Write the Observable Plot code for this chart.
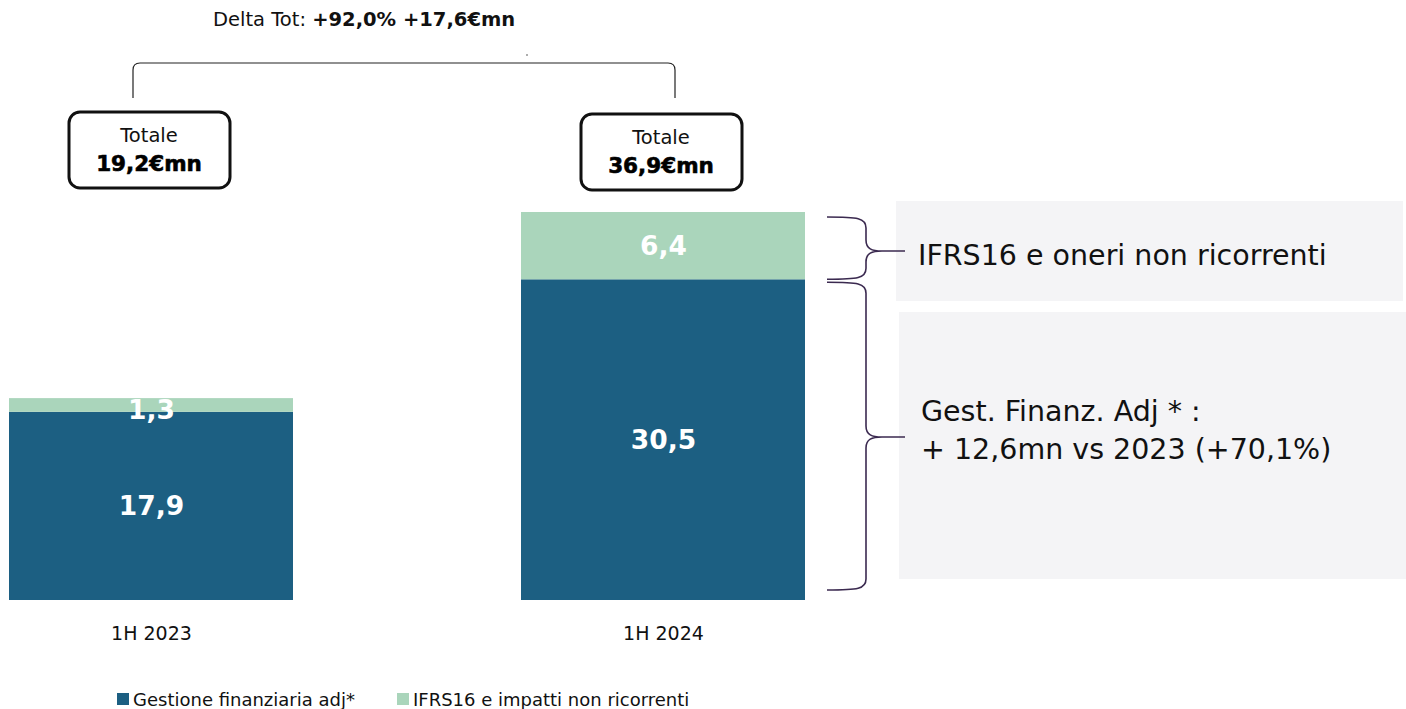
<!DOCTYPE html>
<html>
<head>
<meta charset="utf-8">
<script src="https://cdn.jsdelivr.net/npm/d3@7"></script>
<script src="https://cdn.jsdelivr.net/npm/@observablehq/plot@0.6"></script>
<style>
  html, body { margin: 0; padding: 0; background: #ffffff; }
  #chart { position: relative; width: 1406px; height: 709px; overflow: hidden; }
  svg { font-family: "DejaVu Sans", Verdana, sans-serif; }
</style>
</head>
<body>
<div id="chart"></div>
<script>
// ---- data ----
const periods = ["1H 2023", "1H 2024"];
const seriesNames = ["Gestione finanziaria adj*", "IFRS16 e impatti non ricorrenti"];
const gestione = [17.9, 30.5];
const ifrs = [1.3, 6.4];
const totals = [19.2, 36.9];
const totalLabel = "Totale";
const deltaLabel = "Delta Tot: ";
const deltaPct = "+92,0%";
const deltaAbs = "+17,6€mn";
const noteIfrs = "IFRS16 e oneri non ricorrenti";
const noteGest = ["Gest. Finanz. Adj * :", "+ 12,6mn vs 2023 (+70,1%)"];
const colors = ["#1c5f82", "#aad5bb"];

const fmt = v => v.toFixed(1).replace(".", ",");

const rows = [];
periods.forEach((p, i) => {
  rows.push({period: p, series: seriesNames[0], value: gestione[i]});
  rows.push({period: p, series: seriesNames[1], value: ifrs[i]});
});

const labelOpts = {fill: "white", fontWeight: "bold", fontSize: 26.5};

const chart = Plot.plot({
  width: 1406,
  height: 709,
  margin: 0,
  style: {fontFamily: '"DejaVu Sans", Verdana, sans-serif', background: "white"},
  x: {domain: periods, range: [8, 806], paddingInner: 0.4444, paddingOuter: 0, axis: null},
  y: {domain: [0, 36.9], range: [600, 212], axis: null},
  color: {domain: seriesNames, range: colors},
  marks: [
    Plot.barY(rows, {x: "period", y: "value", fill: "series"}),
    Plot.text(rows, Plot.stackY({
      x: "period", y: "value", z: "series",
      text: d => d.value >= 2 ? fmt(d.value) : "",
      ...labelOpts
    })),
    Plot.text(rows, Plot.stackY({
      x: "period", y: "value", z: "series",
      text: d => d.value < 2 ? fmt(d.value) : "",
      dy: 5,
      ...labelOpts
    })),
    Plot.text(periods, {x: d => d, y: () => 0, text: d => d, dy: 33, fontSize: 19, fill: "#111"})
  ]
});

document.getElementById("chart").appendChild(chart);

const svg = d3.select(chart);
const xs = chart.scale("x");
const centers = periods.map(p => xs.apply(p) + xs.bandwidth / 2);

// Delta title
const title = svg.append("text").attr("x", 213).attr("y", 26).attr("text-anchor", "start")
  .attr("font-size", 19.5).attr("fill", "#111");
title.append("tspan").text(deltaLabel);
title.append("tspan").attr("font-weight", "bold").text(deltaPct + " ");
title.append("tspan").attr("font-weight", "bold").text(deltaAbs);

svg.append("circle").attr("cx", 527).attr("cy", 55).attr("r", 0.8).attr("fill", "#444");

// connector bracket between boxes
svg.append("path")
  .attr("d", "M133,98 L133,70 Q133,63 140,63 L668,63 Q675,63 675,70 L675,98")
  .attr("fill", "none").attr("stroke", "#222").attr("stroke-width", 1.2);

// total boxes
const boxY = [112, 114];
centers.forEach((cx, i) => {
  const g = svg.append("g");
  g.append("rect").attr("x", cx - 82).attr("y", boxY[i]).attr("width", 161).attr("height", 76)
    .attr("rx", 11).attr("fill", "white").attr("stroke", "#111").attr("stroke-width", 3);
  g.append("text").attr("x", cx - 2).attr("y", boxY[i] + 30).attr("text-anchor", "middle")
    .attr("font-size", 19.5).attr("fill", "#111").text(totalLabel);
  g.append("text").attr("x", cx - 2).attr("y", boxY[i] + 59).attr("text-anchor", "middle")
    .attr("font-size", 21.5).attr("font-weight", "bold").attr("fill", "#000")
    .attr("stroke", "#000").attr("stroke-width", 0.6).text(fmt(totals[i]) + "€mn");
});

// grey note boxes
svg.append("rect").attr("x", 896).attr("y", 201).attr("width", 507).attr("height", 100).attr("fill", "#f4f4f6");
svg.append("rect").attr("x", 899).attr("y", 312).attr("width", 507).attr("height", 267).attr("fill", "#f4f4f6");

svg.append("text").attr("x", 918).attr("y", 265).attr("text-anchor", "start")
  .attr("font-size", 28.5).attr("fill", "#111").text(noteIfrs);
noteGest.forEach((t, i) => {
  svg.append("text").attr("x", 921).attr("y", 421 + i * 38).attr("text-anchor", "start")
    .attr("font-size", 28.5).attr("fill", "#111").text(t);
});

// curly braces
function brace(x0, x1, xt, y0, ym, y1) {
  const r = 11;
  return `M${x0},${y0} C${x1 - 8},${y0} ${x1},${y0 + 1} ${x1},${y0 + r}` +
    ` L${x1},${ym - r} C${x1},${ym - 2} ${x1 + 6},${ym} ${x1 + 16},${ym} L${xt},${ym}` +
    ` M${x1 + 16},${ym} C${x1 + 6},${ym} ${x1},${ym + 2} ${x1},${ym + r}` +
    ` L${x1},${y1 - r} C${x1},${y1 - 1} ${x1 - 8},${y1} ${x0},${y1}`;
}
const yScale = chart.scale("y");
const yTop = yScale.apply(totals[1]);
const yMid = yScale.apply(gestione[1]);
const yBase = yScale.apply(0);
svg.append("path").attr("d", brace(827, 866, 905, yTop + 5, 251, yMid))
  .attr("fill", "none").attr("stroke", "#3b2a50").attr("stroke-width", 1.6);
svg.append("path").attr("d", brace(827, 866, 905, yMid + 3, 437, yBase - 10))
  .attr("fill", "none").attr("stroke", "#3b2a50").attr("stroke-width", 1.6);

// legend
const legX = [117, 397];
seriesNames.forEach((s, i) => {
  svg.append("rect").attr("x", legX[i]).attr("y", 693).attr("width", 12).attr("height", 12).attr("fill", colors[i]);
  svg.append("text").attr("x", legX[i] + 16).attr("y", 706).attr("text-anchor", "start")
    .attr("font-size", 18).attr("fill", "#111").text(s);
});
</script>
</body>
</html>
